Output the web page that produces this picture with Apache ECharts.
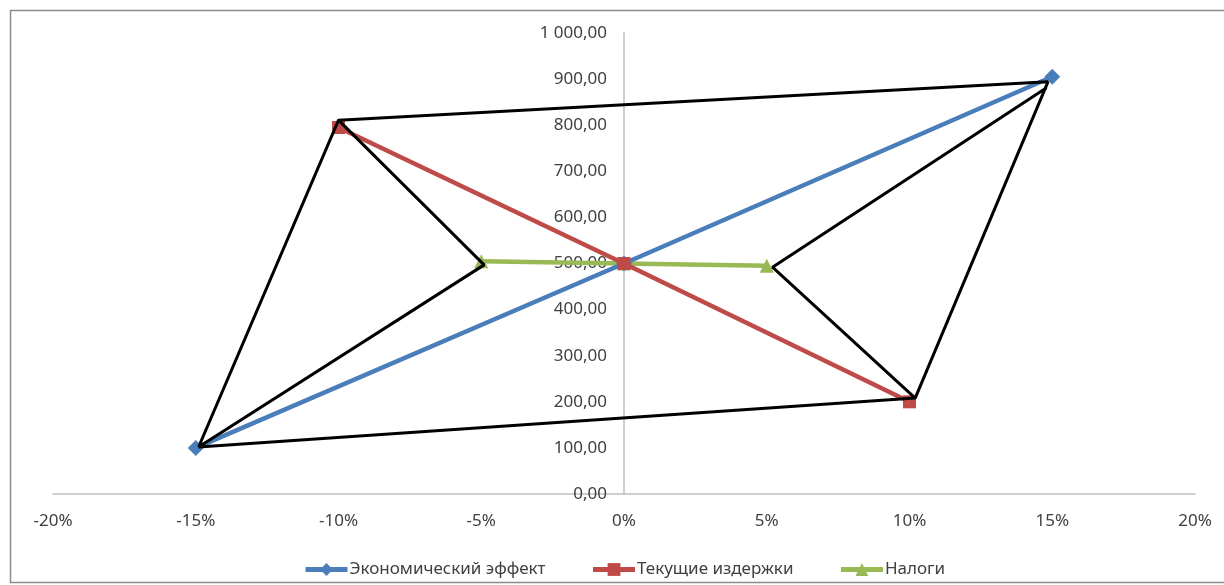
<!DOCTYPE html>
<html>
<head>
<meta charset="utf-8">
<script src="https://cdn.jsdelivr.net/npm/echarts@6/dist/echarts.min.js"></script>
<style>
html,body{margin:0;padding:0;background:#fff;}
#chart{width:1224px;height:585px;}
</style>
</head>
<body>
<div id="chart"></div>
<script>
// Data (x in %, y in value units)
const seriesNames = ['Экономический эффект', 'Текущие издержки', 'Налоги'];
const effectX = [-15, 0, 15];
const effectY = [100, 500, 905];
const costsX = [-10, 0, 10];
const costsY = [795, 500, 200];
const taxesX = [-5, 0, 5];
const taxesY = [505, 500, 495];
// black outline shapes (hand-drawn lines in the reference)
const outerX = [-14.9, -10.0, 14.85, 10.2, -14.9];
const outerY = [102, 811, 894, 208, 102];
const innerLeftX = [-10.0, -4.9, -14.9];
const innerLeftY = [811, 497, 102];
const innerRightX = [14.8, 5.2, 10.2];
const innerRightY = [881, 492, 208];
const xTicks = [-20, -15, -10, -5, 0, 5, 10, 15, 20];

const zip = (xs, ys) => xs.map((x, i) => [x, ys[i]]);
const FONT = 'Noto Sans, sans-serif';

function fmtY(v) {
  const parts = v.toFixed(2).split('.');
  const int = parts[0].replace(/\B(?=(\d{3})+(?!\d))/g, ' ');
  return int + ',' + parts[1];
}

const GRID_LEFT = 53, GRID_RIGHT = 29;
const chart = echarts.init(document.getElementById('chart'));
const plotWidth = 1224 - GRID_LEFT - GRID_RIGHT;
const blackLine = (data) => ({
  type: 'line', data, symbol: 'none', silent: true, z: 5,
  lineStyle: { color: '#000', width: 3 }, legendHoverLink: false
});
chart.setOption({
  animation: false,
  graphic: [{
    type: 'rect', shape: { x: 10.5, y: 10.5, width: 1230, height: 572 },
    style: { fill: 'none', stroke: '#8c8c8c', lineWidth: 1.5 }, silent: true
  }],
  grid: { left: GRID_LEFT, right: GRID_RIGHT, top: 33, bottom: 91, containLabel: false, outerBoundsMode: 'none' },
  xAxis: {
    type: 'value', min: xTicks[0], max: xTicks[xTicks.length - 1], interval: 5,
    axisLine: { lineStyle: { color: '#bfbfbf', width: 1.5 } },
    axisTick: { show: false },
    splitLine: { show: false },
    axisLabel: { formatter: v => v + '%', color: '#404040', fontSize: 17, fontFamily: FONT, margin: 19 }
  },
  yAxis: {
    type: 'value', min: 0, max: 1000, interval: 100,
    position: 'left',
    offset: -(plotWidth * (0 - xTicks[0]) / (xTicks[xTicks.length - 1] - xTicks[0])),
    axisLine: { show: true, onZero: false, lineStyle: { color: '#bfbfbf', width: 1.5 } },
    axisTick: { show: false },
    splitLine: { show: false },
    axisLabel: { formatter: fmtY, color: '#404040', fontSize: 17, fontFamily: FONT, margin: 17 }
  },
  legend: {
    bottom: 2, left: 298, itemGap: 45, itemWidth: 42, itemHeight: 16,
    data: seriesNames,
    lineStyle: { width: 5 },
    textStyle: { color: '#404040', fontSize: 17, fontFamily: FONT, padding: [0, 0, 0, -3] }
  },
  series: [
    { name: seriesNames[0], type: 'line', data: zip(effectX, effectY), symbol: 'diamond', symbolSize: 16,
      color: '#4A7EBB', lineStyle: { width: 4.5 }, z: 2 },
    { name: seriesNames[1], type: 'line', data: zip(costsX, costsY), symbol: 'rect', symbolSize: 13,
      color: '#BE4B48', lineStyle: { width: 4.5 }, z: 3 },
    { name: seriesNames[2], type: 'line', data: zip(taxesX, taxesY), symbol: 'triangle', symbolSize: 14,
      color: '#98B954', lineStyle: { width: 4.5 }, z: 1 },
    blackLine(zip(outerX, outerY)),
    blackLine(zip(innerLeftX, innerLeftY)),
    blackLine(zip(innerRightX, innerRightY))
  ]
});
</script>
</body>
</html>
